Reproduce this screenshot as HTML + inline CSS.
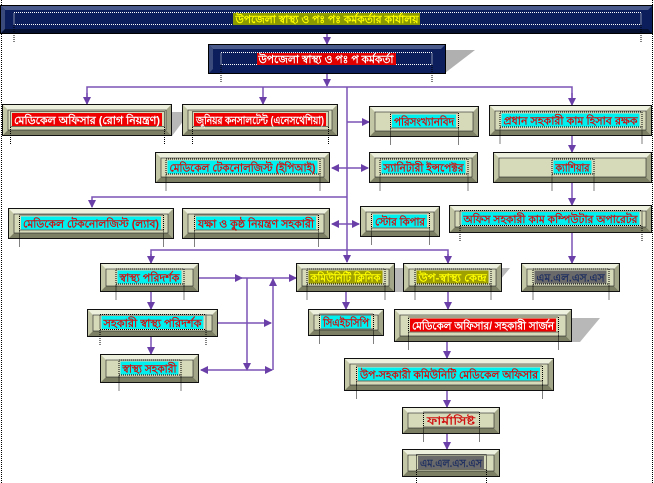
<!DOCTYPE html>
<html><head><meta charset="utf-8"><style>
html,body{margin:0;padding:0;background:#fff;width:654px;height:483px;overflow:hidden}
svg{display:block}
text{font-family:"Liberation Sans","Noto Sans CJK SC",sans-serif;font-size:11px;font-weight:bold}
</style></head><body>
<svg width="654" height="483" viewBox="0 0 654 483" xmlns="http://www.w3.org/2000/svg">
<defs>
<marker id="ah" markerWidth="8" markerHeight="8" refX="7" refY="4" orient="auto" markerUnits="userSpaceOnUse"><path d="M0,0 L8,4 L0,8 z" fill="#6a3fa8"/></marker>
<marker id="as" markerWidth="8" markerHeight="8" refX="1" refY="4" orient="auto" markerUnits="userSpaceOnUse"><path d="M8,0 L0,4 L8,8 z" fill="#6a3fa8"/></marker>
</defs>
<!-- outer dotted frame -->
<line x1="1.5" y1="0" x2="1.5" y2="483" stroke="#000" stroke-width="1" stroke-dasharray="1,1"/>
<line x1="652.5" y1="0" x2="652.5" y2="483" stroke="#000" stroke-width="1" stroke-dasharray="1,1"/>

<!-- shadows -->
<polygon points="356,50 475,50 445,73 356,73" fill="#b0b0b0"/>
<polygon points="172,112 190,112 172,136" fill="#b8b8b8"/>
<polygon points="395,268 510,268 490,292 395,292" fill="#b8b8b8"/>
<polygon points="572,318 600,318 580,342 572,342" fill="#b8b8b8"/>

<!-- connectors -->
<g stroke="#7b52b5" stroke-width="1.5" fill="none">
<line x1="327" y1="33" x2="327" y2="44" marker-end="url(#ah)"/>
<line x1="327" y1="73" x2="327" y2="86" marker-end="url(#ah)"/>
<polyline points="87,103 87,87 572,87 572,103" />
<line x1="87" y1="93" x2="87" y2="104" marker-end="url(#ah)"/>
<line x1="263" y1="87" x2="263" y2="104" marker-end="url(#ah)"/>
<line x1="572" y1="93" x2="572" y2="105" marker-end="url(#ah)"/>
<line x1="347" y1="87" x2="347" y2="262" marker-end="url(#ah)"/>
<line x1="347" y1="122" x2="369" y2="122" marker-end="url(#ah)"/>
<line x1="332" y1="168" x2="368" y2="168" marker-start="url(#as)" marker-end="url(#ah)"/>
<line x1="572" y1="136" x2="572" y2="152" marker-end="url(#ah)"/>
<polyline points="347,197 92,197 92,207" marker-end="url(#ah)"/>
<line x1="332" y1="224" x2="359" y2="224" marker-start="url(#as)" marker-end="url(#ah)"/>
<line x1="572" y1="183" x2="572" y2="205" marker-end="url(#ah)"/>
<polyline points="151,262 151,250 448,250 448,262" />
<line x1="151" y1="254" x2="151" y2="263" marker-end="url(#ah)"/>
<line x1="448" y1="254" x2="448" y2="263" marker-end="url(#ah)"/>
<line x1="572" y1="233" x2="572" y2="263" marker-end="url(#ah)"/>
<line x1="199" y1="278" x2="242" y2="278" marker-end="url(#ah)"/>
<line x1="240" y1="278" x2="296" y2="278" marker-end="url(#ah)"/>
<line x1="247" y1="278" x2="247" y2="370" marker-end="url(#ah)"/>
<line x1="273" y1="370" x2="273" y2="279" marker-end="url(#ah)"/>
<line x1="218" y1="323" x2="271" y2="323" marker-end="url(#ah)"/>
<line x1="201" y1="370" x2="272" y2="370" marker-start="url(#as)" marker-end="url(#ah)"/>
<line x1="151" y1="292" x2="151" y2="309" marker-end="url(#ah)"/>
<line x1="151" y1="337" x2="151" y2="354" marker-end="url(#ah)"/>
<line x1="346" y1="292" x2="346" y2="309" marker-end="url(#ah)"/>
<line x1="448" y1="292" x2="448" y2="309" marker-end="url(#ah)"/>
<line x1="447" y1="342" x2="447" y2="358" marker-end="url(#ah)"/>
<line x1="447" y1="391" x2="447" y2="407" marker-end="url(#ah)"/>
<line x1="447" y1="434" x2="447" y2="449" marker-end="url(#ah)"/>
</g>

<!-- navy banner -->
<g>
<rect x="0.5" y="5.5" width="652" height="28" fill="#0c1f5c" stroke="#000"/>
<polygon points="1,6 652,6 648,10 5,10" fill="#4a5a8a"/>
<polygon points="1,6 5,10 5,29 1,33" fill="#3a4a7a"/>
<polygon points="1,33 5,29 648,29 652,33" fill="#050f30"/>
<rect x="14" y="12.5" width="627" height="12" fill="none" stroke="#fff" stroke-dasharray="1,1"/>
<line x1="14" y1="25" x2="14" y2="43" stroke="#000" stroke-dasharray="1,1"/>
<line x1="641" y1="25" x2="641" y2="43" stroke="#000" stroke-dasharray="1,1"/>
<rect x="233" y="13" width="187" height="12" fill="#8a9a00"/>
<text x="327" y="23" text-anchor="middle" fill="#ffff00" textLength="183" lengthAdjust="spacingAndGlyphs">উপজেলা স্বাস্থ্য ও পঃ পঃ কর্মকর্তার কার্যালয়</text>
</g>
<g>
<rect x="208.5" y="44.5" width="237" height="29" fill="#0c1f5c" stroke="#000"/>
<polygon points="209,45 445,45 441,49 213,49" fill="#4a5a8a"/>
<polygon points="209,45 213,49 213,69 209,73" fill="#3a4a7a"/>
<rect x="221" y="52.5" width="211" height="12" fill="none" stroke="#fff" stroke-dasharray="1,1"/>
<line x1="221" y1="65" x2="221" y2="83" stroke="#000" stroke-dasharray="1,1"/>
<line x1="432" y1="65" x2="432" y2="83" stroke="#000" stroke-dasharray="1,1"/>
<rect x="257" y="53" width="139" height="12" fill="#e00000"/>
<text x="326" y="63" text-anchor="middle" fill="#fff" textLength="135" lengthAdjust="spacingAndGlyphs">উপজেলা স্বাস্থ্য ও পঃ প কর্মকর্তা</text>
</g>

<!-- bevel boxes -->
<g id="boxes"></g>
</svg>
<script>
var B=[
[2,104,170,32,"মেডিকেল অফিসার (রোগ নিয়ন্ত্রণ)",150,"r"],
[182,104,156,32,"জুনিয়র কনসালটেন্ট (এনেসথেশিয়া)",132,"r"],
[369,106,110,31,"পরিসংখ্যানবিদ",64,"c"],
[489,105,163,31,"প্রধান সহকারী কাম হিসাব রক্ষক",138,"c"],
[155,152,175,31,"মেডিকেল টেকনোলজিস্ট (ইপিআই)",150,"c"],
[369,152,109,31,"স্যানিটারী ইন্সপেক্টর",84,"c"],
[493,152,159,31,"ক্যাশিয়ার",38,"c"],
[8,208,166,31,"মেডিকেল টেকনোলজিস্ট (ল্যাব)",140,"c"],
[182,208,148,31,"যক্ষা ও কুষ্ঠ নিয়ন্ত্রণ সহকারী",120,"c"],
[360,206,80,31,"স্টোর কিপার",54,"c"],
[449,205,203,28,"অফিস সহকারী কাম কম্পিউটার অপারেটর",178,"c"],
[100,263,99,29,"স্বাস্থ্য পরিদর্শক",64,"c"],
[296,263,99,29,"কমিউনিটি ক্লিনিক",74,"o"],
[403,263,99,29,"উপ-স্বাস্থ্য কেন্দ্র",72,"o"],
[521,263,99,29,"এম.এল.এস.এস",72,"g"],
[87,309,131,28,"সহকারী স্বাস্থ্য পরিদর্শক",102,"c"],
[308,309,76,27,"সিএইচসিপি",50,"c"],
[394,309,178,33,"মেডিকেল অফিসার/ সহকারী সার্জন",146,"r"],
[100,354,99,29,"স্বাস্থ্য সহকারী",58,"c"],
[344,358,210,33,"উপ-সহকারী কমিউনিটি মেডিকেল অফিসার",182,"c"],
[402,407,98,27,"ফার্মাসিষ্ট",52,"n"],
[402,449,98,28,"এম.এল.এস.এস",66,"g"]];
var s="";
B.forEach(function(b){var x=b[0],y=b[1],w=b[2],h=b[3],t=b[4],hw=b[5],st=b[6],d=5;
s+='<rect x="'+(x+.5)+'" y="'+(y+.5)+'" width="'+(w-1)+'" height="'+(h-1)+'" fill="#d7dab9" stroke="#111"/>';
s+='<polygon points="'+(x+1)+','+(y+1)+' '+(x+w-1)+','+(y+1)+' '+(x+w-1-d)+','+(y+1+d)+' '+(x+1+d)+','+(y+1+d)+'" fill="#eef0de"/>';
s+='<polygon points="'+(x+1)+','+(y+1)+' '+(x+1+d)+','+(y+1+d)+' '+(x+1+d)+','+(y+h-1-d)+' '+(x+1)+','+(y+h-1)+'" fill="#c4c7a6"/>';
s+='<polygon points="'+(x+1)+','+(y+h-1)+' '+(x+1+d)+','+(y+h-1-d)+' '+(x+w-1-d)+','+(y+h-1-d)+' '+(x+w-1)+','+(y+h-1)+'" fill="#7c7f63"/>';
s+='<polygon points="'+(x+w-1)+','+(y+1)+' '+(x+w-1)+','+(y+h-1)+' '+(x+w-1-d)+','+(y+h-1-d)+' '+(x+w-1-d)+','+(y+1+d)+'" fill="#a3a688"/>';
s+='<rect x="'+(x+1+d)+'" y="'+(y+1+d)+'" width="'+(w-2-2*d)+'" height="'+(h-2-2*d)+'" fill="none" stroke="#222" stroke-width=".6"/>';
var cx=x+w/2,cy=y+h/2,bg={r:"#ee0000",c:"#00f0f0",o:"#a0a000",g:"#6a6a6a",n:"none"}[st],fc={r:"#fff",c:"#d01010",o:"#ffff00",g:"#203060",n:"#d01010"}[st];
var dx=(w-2*d-hw)/2>14?Math.min((w-hw)/2-4,14):4;
var lx=x+ (w-hw)/2 -2, rx=x+(w+hw)/2+2;
s+='<rect x="'+(cx-hw/2)+'" y="'+(cy-7)+'" width="'+hw+'" height="13" fill="'+bg+'"/>';
s+='<rect x="'+(lx+.5)+'" y="'+(cy-8.5)+'" width="'+(rx-lx)+'" height="15" fill="none" stroke="#000" stroke-width="1" stroke-dasharray="1,1"/>';
s+='<line x1="'+(lx+.5)+'" y1="'+(cy+7)+'" x2="'+(lx+.5)+'" y2="'+(y+h+8)+'" stroke="#000" stroke-dasharray="1,1"/>';
s+='<line x1="'+(rx+.5)+'" y1="'+(cy+7)+'" x2="'+(rx+.5)+'" y2="'+(y+h+8)+'" stroke="#000" stroke-dasharray="1,1"/>';
s+='<text x="'+cx+'" y="'+(cy+4)+'" text-anchor="middle" fill="'+fc+'" textLength="'+(hw-4)+'" lengthAdjust="spacingAndGlyphs">'+t+'</text>';
});
document.getElementById("boxes").innerHTML=s;
</script>
</body></html>
